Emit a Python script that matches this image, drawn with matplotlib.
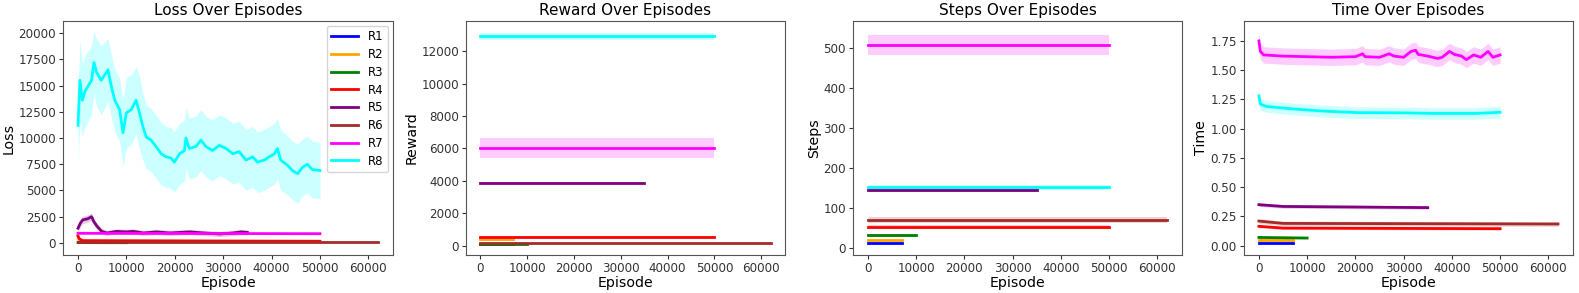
import matplotlib

matplotlib.use("Agg")
import matplotlib.pyplot as plt
import numpy as np

# runs and their colours / lengths
RUNS = ["R1", "R2", "R3", "R4", "R5", "R6", "R7", "R8"]
COLORS = ["blue", "orange", "green", "red", "purple", "brown", "magenta", "cyan"]
LAST_EP = [7000, 7000, 10000, 50000, 35000, 62000, 50000, 50000]

# ---- Loss ----
loss_r8_ep = [0, 400, 900, 1500, 2800, 3300, 3800, 4800, 6200, 6900,
              7600, 8600, 9300, 10000, 11000, 12000, 12700, 13400, 14100, 15100,
              16100, 17200, 18200, 19200, 19900, 21000, 22000, 22300, 23000, 24400,
              25400, 26400, 27800, 29200, 30600, 32000, 33300, 34700, 36100, 37100,
              38500, 39500, 40600, 41200, 41900, 43300, 44300, 45400, 46400, 47400,
              48400, 50000]
loss_r8_mean = [11200, 15500, 13600, 14500, 15500, 17200, 16300, 15500, 16500, 14900,
                13600, 12700, 10500, 12400, 12700, 13600, 12400, 11100, 10100, 9800,
                9200, 8500, 8200, 8100, 7700, 8500, 8800, 10000, 9000, 9200,
                9800, 9200, 8800, 9300, 9000, 8500, 8700, 7900, 8200, 7700,
                7900, 8200, 8500, 9000, 7900, 7400, 6900, 6600, 7200, 7500,
                7000, 6900]
loss_r8_std = [3600, 3800, 3500, 3400, 3300, 3000, 3200, 3300, 3000, 3000,
               3000, 3000, 3200, 3400, 3300, 3200, 3500, 3200, 3000, 3000,
               3000, 3000, 2900, 2900, 2900, 2900, 2900, 2900, 2900, 2900,
               2900, 2900, 2900, 2900, 2900, 2900, 2900, 2900, 2900, 2900,
               2900, 2900, 2900, 2900, 2900, 2800, 2800, 2800, 2700, 2700,
               2700, 2700]

loss_r5_ep = [0, 500, 1000, 2000, 2800, 3300, 4000, 4900, 6000, 8000,
              10000, 11400, 13500, 16200, 19000, 21000, 23100, 26000, 29300, 32000,
              33700, 35000]
loss_r5_mean = [1400, 1900, 2200, 2300, 2500, 2000, 1550, 1100, 950, 1100,
                1050, 1100, 950, 1050, 950, 1000, 1050, 950, 850, 950,
                1050, 1000]
loss_r5_std = [350, 350, 350, 350, 350, 350, 300, 250, 250, 250,
               250, 250, 250, 250, 250, 250, 250, 250, 250, 250,
               250, 250]

loss_ep = [[0, 7000], [0, 300, 7000], [0, 10000], [0, 300, 1000, 50000], loss_r5_ep,
           [0, 62000], [0, 50000], loss_r8_ep]
loss_mean = [[80, 80], [700, 60, 50], [30, 20], [640, 380, 220, 160], loss_r5_mean,
             [100, 100], [920, 880], loss_r8_mean]
loss_std = [[5, 5], [60, 20, 20], [20, 20], [60, 40, 30, 30], loss_r5_std,
            [30, 30], [60, 60], loss_r8_std]

# ---- Reward ----
reward_ep = [[0, 7000], [0, 7000], [0, 10000], [0, 50000], [0, 35000],
             [0, 62000], [0, 50000], [0, 50000]]
reward_mean = [[140, 140], [430, 430], [100, 100], [570, 570], [3880, 3880],
               [150, 150], [6050, 6050], [12900, 12900]]
reward_std = [[20, 20], [30, 30], [20, 20], [40, 40], [50, 50],
              [40, 40], [620, 620], [220, 220]]

# ---- Steps ----
steps_ep = [[0, 7000], [0, 7000], [0, 10000], [0, 50000], [0, 35000],
            [0, 62000], [0, 50000], [0, 50000]]
steps_mean = [[12, 12], [21, 21], [32, 32], [53, 53], [146, 146],
              [70, 70], [507, 507], [152, 152]]
steps_std = [[1.5, 1.5], [1.5, 1.5], [3, 3], [4, 4], [5, 5],
             [8, 8], [25, 25], [6, 6]]

# ---- Time ----
time_r7_ep = [0, 300, 1000, 5000, 10000, 15000, 20000, 21500, 22000, 25000,
              27000, 28000, 30000, 31500, 32500, 33000, 35000, 37000, 38000, 39500,
              40500, 42000, 43000, 44500, 46000, 47500, 48500, 50000]
time_r7_mean = [1.75, 1.66, 1.63, 1.62, 1.615, 1.61, 1.615, 1.64, 1.615, 1.61,
                1.64, 1.62, 1.61, 1.66, 1.67, 1.635, 1.62, 1.60, 1.61, 1.66,
                1.635, 1.62, 1.59, 1.63, 1.61, 1.66, 1.61, 1.63]
time_r7_std = [0.07] * len(time_r7_ep)

time_r8_ep = [0, 300, 1500, 6500, 13400, 20300, 30000, 36000, 45000, 50000]
time_r8_mean = [1.28, 1.21, 1.19, 1.17, 1.15, 1.137, 1.135, 1.13, 1.13, 1.14]
time_r8_std = [0.05, 0.05, 0.05, 0.05, 0.05, 0.05, 0.05, 0.05, 0.05, 0.05]

time_ep = [[0, 7000], [0, 7000], [0, 10000], [0, 5000, 50000], [0, 5000, 20000, 35000],
           [0, 5000, 62000], time_r7_ep, time_r8_ep]
time_mean = [[0.025, 0.025], [0.05, 0.05], [0.07, 0.065], [0.165, 0.15, 0.145],
             [0.35, 0.335, 0.33, 0.325], [0.21, 0.19, 0.185], time_r7_mean, time_r8_mean]
time_std = [[0.005, 0.005], [0.005, 0.005], [0.008, 0.008], [0.012, 0.012, 0.012],
            [0.015, 0.015, 0.015, 0.015], [0.02, 0.02, 0.02], time_r7_std, time_r8_std]


def draw(ax, ep_lists, mean_lists, std_lists):
    for label, color, ep, mean, std in zip(RUNS, COLORS, ep_lists, mean_lists, std_lists):
        ep = np.asarray(ep, dtype=float)
        mean = np.asarray(mean, dtype=float)
        std = np.asarray(std, dtype=float)
        ax.fill_between(ep, mean - std, mean + std, color=color, alpha=0.2, lw=0)
        ax.plot(ep, mean, color=color, lw=2, label=label)


fig = plt.figure(figsize=(15.79, 2.93), dpi=100)
rects = [
    [0.0399, 0.1297, 0.2090, 0.7986],
    [0.2951, 0.1297, 0.2021, 0.7986],
    [0.5402, 0.1297, 0.2084, 0.7986],
    [0.7878, 0.1297, 0.2084, 0.7986],
]
axes = [fig.add_axes(r) for r in rects]

panels = [
    ("Loss", loss_ep, loss_mean, loss_std, (-1150, 21150), np.arange(0, 20001, 2500)),
    ("Reward", reward_ep, reward_mean, reward_std, (-560, 13850), np.arange(0, 12001, 2000)),
    ("Steps", steps_ep, steps_mean, steps_std, (-17, 568), np.arange(0, 501, 100)),
    ("Time", time_ep, time_mean, time_std, (-0.08, 1.92), np.arange(0, 1.76, 0.25)),
]

for ax, (name, ep, mean, std, ylim, yticks) in zip(axes, panels):
    draw(ax, ep, mean, std)
    ax.set_title(f"{name} Over Episodes", fontsize=11, pad=4)
    ax.set_xlabel("Episode", fontsize=10.2, labelpad=1)
    ax.set_ylabel(name, fontsize=10.2, labelpad=2)
    ax.set_xlim(-3100, 65100)
    ax.set_ylim(*ylim)
    ax.set_xticks(np.arange(0, 60001, 10000))
    ax.set_yticks(yticks)
    if name == "Time":
        ax.set_yticklabels([f"{t:.2f}" for t in yticks])
    ax.tick_params(labelsize=8.6, length=3, pad=2, colors="#333333")
    for s in ax.spines.values():
        s.set_color("#555555")

axes[0].legend(loc="upper right", fontsize=8.5, handlelength=2.3,
               labelspacing=0.4, borderaxespad=0.4)

fig.savefig("out.png", dpi=100)
